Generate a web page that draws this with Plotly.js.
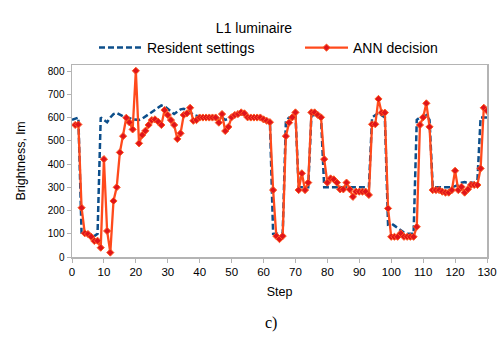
<!DOCTYPE html>
<html>
<head>
<meta charset="utf-8">
<script src="https://cdn.plot.ly/plotly-3.0.1.min.js"></script>
<style>
html,body{margin:0;padding:0;background:#fff;}
#chart{width:501px;height:343px;}
</style>
</head>
<body>
<div id="chart"></div>
<script>
// Resident settings, steps 0..130
const residentSteps = Array.from({length: 131}, (_, i) => i);
const residentValues = [
  590,595,600,100,100,100,95,90,100,600,
  590,580,600,615,620,612,605,600,598,592,
  590,590,595,605,612,622,632,645,652,648,
  638,625,615,625,635,638,632,622,612,608,
  605,602,600,600,600,600,595,600,590,595,
  602,608,612,615,612,605,600,600,600,598,
  592,585,580,100,100,100,100,585,600,605,
  615,300,300,300,300,610,610,605,600,300,
  300,300,300,300,300,300,300,300,300,300,
  300,300,300,300,600,610,620,610,600,140,
  145,135,125,115,105,100,100,100,590,600,
  600,610,590,300,300,300,300,300,300,300,
  305,310,320,322,318,320,318,330,600,600,
  600
];
// ANN decision, steps 1..130
const annSteps = Array.from({length: 130}, (_, i) => i + 1);
const annValues = [
  568,570,212,102,99,87,69,70,40,421,
  112,19,241,300,450,520,599,579,549,801,
  489,525,543,568,589,592,582,568,632,611,
  589,568,508,532,611,618,642,586,589,600,
  600,600,600,600,600,578,615,542,560,601,
  611,615,622,618,601,600,600,600,600,592,
  586,580,288,90,77,90,520,578,601,622,
  288,360,288,320,622,622,611,601,421,320,
  338,334,320,291,291,320,291,259,281,281,
  281,281,267,571,571,680,621,621,209,87,
  87,87,102,87,87,87,87,130,568,601,
  661,560,288,288,288,281,277,277,288,371,
  288,302,277,291,310,310,310,381,642,629
];
const xTicks = [0,10,20,30,40,50,60,70,80,90,100,110,120,130];
const yTicks = [0,100,200,300,400,500,600,700,800];

const font = "Liberation Sans, Arial, sans-serif";

const traces = [
  {
    x: residentSteps, y: residentValues, type: 'scatter', mode: 'lines',
    name: 'Resident settings', legend: 'legend',
    line: {color: '#0d4f8b', width: 2.5, dash: '6px,3px'}
  },
  {
    x: annSteps, y: annValues, type: 'scatter', mode: 'lines+markers',
    name: 'ANN decision', legend: 'legend2',
    line: {color: '#ff4a1c', width: 2.3},
    marker: {symbol: 'diamond', size: 5.5, color: '#e0141b', line: {color: '#ff5a20', width: 1}}
  }
];

const legendCommon = {
  orientation: 'h', xref: 'container', yref: 'container',
  xanchor: 'left', y: 1 - 48/343, yanchor: 'middle',
  font: {family: font, size: 14, color: '#000'},
  itemwidth: 43, bgcolor: 'rgba(0,0,0,0)', borderwidth: 0
};

const layout = {
  width: 501, height: 343,
  margin: {l: 72, r: 14, t: 65, b: 86, pad: 0, autoexpand: false},
  paper_bgcolor: '#fff', plot_bgcolor: '#fff',
  font: {family: font, color: '#000'},
  title: {text: 'L1 luminaire', font: {family: font, size: 14, color: '#000'},
          x: 0.507, xanchor: 'center', y: 1 - 28/343, yanchor: 'middle', yref: 'container'},
  showlegend: true,
  legend: Object.assign({}, legendCommon, {x: 94/501}),
  legend2: Object.assign({}, legendCommon, {x: 300/501}),
  xaxis: {
    range: [0, 130], tickvals: xTicks, ticktext: xTicks.map(String),
    showgrid: false, zeroline: false,
    showline: true, linecolor: '#b4b4b4', linewidth: 1.5, mirror: true,
    ticks: 'outside', ticklen: 4, tickcolor: '#b4b4b4', tickwidth: 1,
    tickfont: {family: font, size: 11.5, color: '#000'},
    title: {text: 'Step', font: {family: font, size: 12.5, color: '#000'}, standoff: 10}
  },
  yaxis: {
    range: [0, 826], tickvals: yTicks, ticktext: yTicks.map(String),
    showgrid: false, zeroline: false,
    showline: true, linecolor: '#b4b4b4', linewidth: 1.5, mirror: true,
    ticks: 'outside', ticklen: 4, tickcolor: '#b4b4b4', tickwidth: 1,
    tickfont: {family: font, size: 10, color: '#000'},
    title: {text: 'Brightness, lm', font: {family: font, size: 12.5, color: '#000'}, standoff: 19}
  },
  annotations: [
    {text: 'c)', xref: 'paper', yref: 'paper', x: (271-72)/415, y: (257-323)/192,
     xanchor: 'center', yanchor: 'middle', showarrow: false,
     font: {family: 'Liberation Serif, Times New Roman, serif', size: 16, color: '#000'}}
  ]
};

Plotly.newPlot('chart', traces, layout, {displayModeBar: false, staticPlot: true});
</script>
</body>
</html>
